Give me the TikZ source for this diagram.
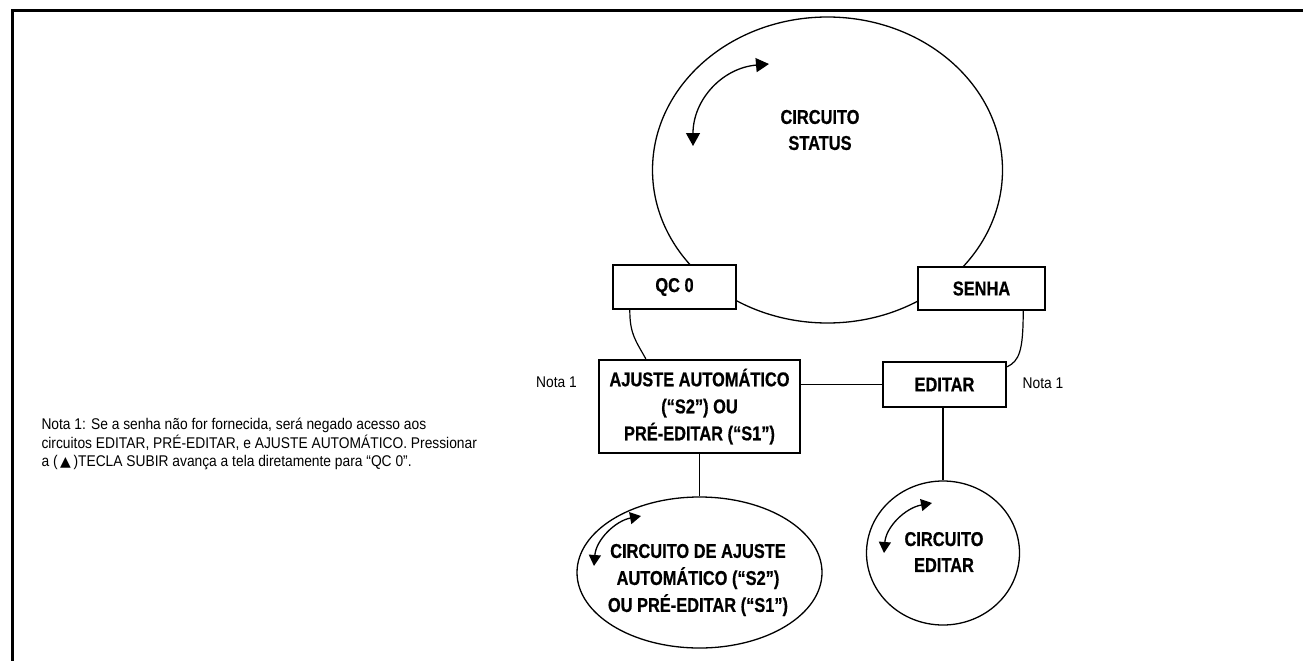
\documentclass[tikz,border=0pt]{standalone}
\usepackage{fontspec}
\setmainfont{Liberation Sans}
\newfontfamily\condfont[FakeStretch=0.82,BoldFeatures={FakeBold=0.6}]{Liberation Sans}
\newfontfamily\notefont[FakeStretch=0.89]{Liberation Sans}
\newfontfamily\symfont{DejaVu Sans}
\usetikzlibrary{arrows.meta,shapes.geometric}

\begin{document}
\begin{tikzpicture}[x=1pt,y=-1pt,
  box/.style={draw, line width=2.4pt, fill=white, inner sep=0pt,
    font=\condfont\bfseries\fontsize{20}{27}\selectfont, align=center},
  loop/.style={draw, line width=1.3pt, ellipse, inner sep=0pt},
  title/.style={font=\condfont\bfseries\fontsize{20}{26}\selectfont, align=center},
  link/.style={line width=1.2pt},
  note/.style={font=\notefont\fontsize{15.5}{18.5}\selectfont},
  cyc/.style={line width=1.3pt,
    {Triangle[length=13pt,width=14pt]}-{Triangle[length=13pt,width=14pt]}},
  smallcyc/.style={line width=1.3pt,
    {Triangle[length=11pt,width=12pt]}-{Triangle[length=11pt,width=12pt]}}
]
\useasboundingbox (0,0) rectangle (1303,661);

% frame (top and left edges)
\draw[line width=3pt] (1303,10.5) -- (12.5,10.5) -- (12.5,661);

% status loop
\node[loop, minimum width=350pt, minimum height=306pt] (status) at (827.5,170) {};
\node[title] (statustxt) at (820,130) {CIRCUITO\\STATUS};
\coordinate (sa) at (693,146);
\coordinate (sb) at (769,64);
\draw[cyc] (sa) .. controls (693,100) and (722,68) .. (sb);

% boxes
\node[box, minimum width=123pt, minimum height=44pt] (qc) at (674.5,287) {QC 0};
\node[box, minimum width=127pt, minimum height=43pt] (senha) at (981.5,288.5) {SENHA};
\node[box, minimum width=201pt, minimum height=93pt] (auto) at (699.5,406.5)
  {AJUSTE AUTOMÁTICO\\(“S2”) OU\\PRÉ-EDITAR (“S1”)};
\node[box, minimum width=123pt, minimum height=45pt] (edit) at (944.5,384.5) {EDITAR};

% side notes
\node[note] (nl) at (556.5,382) {Nota 1};
\node[note] (nr) at (1043,383) {Nota 1};

% lower loops
\node[loop, minimum width=245pt, minimum height=151pt] (autoloop) at (699.5,572.5) {};
\node[title, font=\condfont\bfseries\fontsize{20}{27}\selectfont] (autotxt) at (698,580)
  {CIRCUITO DE AJUSTE\\AUTOMÁTICO (“S2”)\\OU PRÉ-EDITAR (“S1”)};
\coordinate (aa) at (594,566);
\coordinate (ab) at (641,516);
\draw[smallcyc] (aa) .. controls (596,540) and (615,521) .. (ab);

\node[loop, minimum width=153pt, minimum height=144pt] (editloop) at (943,553) {};
\node[title] (edittxt) at (944,552) {CIRCUITO\\EDITAR};
\coordinate (ea) at (884,553);
\coordinate (eb) at (932,503);
\draw[smallcyc] (ea) .. controls (886,527) and (905,508) .. (eb);

% connectors
\draw[link] ([xshift=18pt]qc.south west) .. controls +(0,24) and +(-10,-18) .. ([xshift=48pt]auto.north west);
\draw[link] ([xshift=-23pt]senha.south east) .. controls +(0,40) and +(12,-6) .. ([yshift=-6pt]edit.north east);
\draw[link] (edit.west) -- (edit.west -| auto.east);
\draw[link] (auto.south) -- (autoloop.north);
\draw[link] (edit.south -| editloop.north) -- (editloop.north);

% footnote
\node[note, anchor=west, align=left] (footnote) at (38,444)
  {Nota 1: Se a senha não for fornecida, será negado acesso aos\\
   circuitos EDITAR, PRÉ-EDITAR, e AJUSTE AUTOMÁTICO. Pressionar\\
   a (\,{\symfont\fontsize{14}{18.5}\selectfont ▲}\,)TECLA SUBIR avança a tela diretamente para “QC 0”.};
\end{tikzpicture}
\end{document}
